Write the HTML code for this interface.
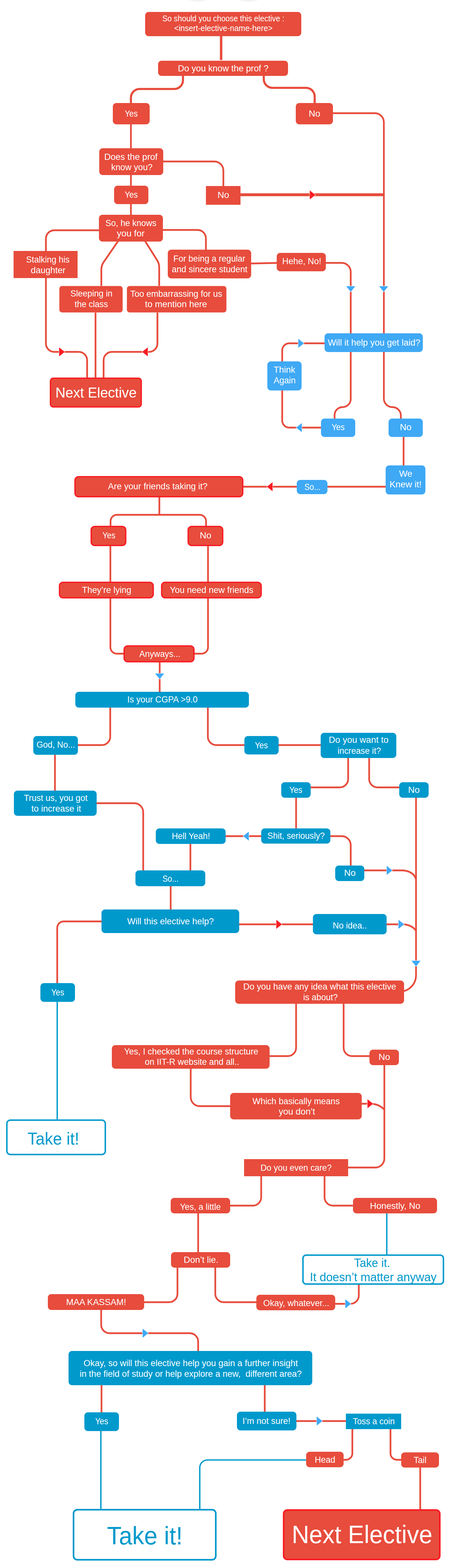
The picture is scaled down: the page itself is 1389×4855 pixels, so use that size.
<!DOCTYPE html>
<html lang="en"><head><meta charset="utf-8"><title>So should you choose this elective</title>
<style>
html,body{margin:0;padding:0;background:#fff}
svg{display:block}
text{font-family:"Liberation Sans",sans-serif;white-space:pre}
</style></head><body>
<svg width="1389" height="4855" viewBox="0 0 1389 4855">
<rect width="1389" height="4855" fill="#fff"/>
<defs><filter id="bl" x="-50%" y="-50%" width="200%" height="200%"><feGaussianBlur stdDeviation="3.5"/></filter></defs>
<ellipse cx="611" cy="-6" rx="28" ry="7" fill="#dcdcdc" filter="url(#bl)"/>
<ellipse cx="768" cy="-6" rx="32" ry="7" fill="#dcdcdc" filter="url(#bl)"/>
<g stroke-linecap="butt" stroke-linejoin="round">
<path d="M684,105 L684,186" stroke="#e74c3c" stroke-width="7.5" fill="none"/>
<path d="M566,230 L566.00,248.50 A27.00,27.00 0 0 1 539.00,275.50 L432.00,275.50 A27.00,27.00 0 0 0 405.00,302.50 L405,325" stroke="#e74c3c" stroke-width="6.5" fill="none"/>
<path d="M816,230 L816.00,245.00 A27.00,27.00 0 0 0 843.00,272.00 L946.50,272.00 A27.00,27.00 0 0 1 973.50,299.00 L973.5,325" stroke="#e74c3c" stroke-width="6.5" fill="none"/>
<path d="M405,380 L405,670" stroke="#e74c3c" stroke-width="5.3" fill="none"/>
<path d="M500,500 L663.00,500.00 A28.00,28.00 0 0 1 691.00,528.00 L691,580" stroke="#e74c3c" stroke-width="5.3" fill="none"/>
<path d="M1025,350.5 L1159.50,350.50 A28.00,28.00 0 0 1 1187.50,378.50 L1187.50,1234.25 A26.25,26.25 0 0 0 1213.75,1260.50 L1213.75,1260.50 A26.25,26.25 0 0 1 1240.00,1286.75 L1240,1300" stroke="#e74c3c" stroke-width="5.3" fill="none"/>
<path d="M740,603 L1187,603" stroke="#e74c3c" stroke-width="9" fill="none"/>
<path d="M310,713 L168.00,713.00 A26.00,26.00 0 0 0 142.00,739.00 L142.00,1063.50 A26.00,26.00 0 0 0 168.00,1089.50 L243.50,1089.50 A26.00,26.00 0 0 1 269.50,1115.50 L269.5,1175" stroke="#e74c3c" stroke-width="5.4" fill="none"/>
<path d="M487,960 L487.00,1063.50 A26.00,26.00 0 0 1 461.00,1089.50 L346.50,1089.50 A26.00,26.00 0 0 0 320.50,1115.50 L320.5,1175" stroke="#e74c3c" stroke-width="5.4" fill="none"/>
<path d="M500,712 L611.00,712.00 A26.00,26.00 0 0 1 637.00,738.00 L637,776" stroke="#e74c3c" stroke-width="5.3" fill="none"/>
<path d="M368.5,742 L320.54,811.76 A40.00,40.00 0 0 0 313.50,834.42 L313.5,890" stroke="#e74c3c" stroke-width="5.4" fill="none"/>
<path d="M446,742 L486.37,806.24 A40.00,40.00 0 0 1 492.50,827.52 L492.5,890" stroke="#e74c3c" stroke-width="5.4" fill="none"/>
<path d="M295.5,960 L295.5,1175" stroke="#e74c3c" stroke-width="5.4" fill="none"/>
<path d="M772,816 L860,814" stroke="#e74c3c" stroke-width="5.3" fill="none"/>
<path d="M1003,814 L1057.00,814.00 A28.00,28.00 0 0 1 1085.00,842.00 L1085.00,1235.50 A25.00,25.00 0 0 1 1060.00,1260.50 L1060.00,1260.50 A25.00,25.00 0 0 0 1035.00,1285.50 L1035,1300" stroke="#e74c3c" stroke-width="5.3" fill="none"/>
<path d="M998,1324 L895.00,1324.00 A22.00,22.00 0 0 1 873.00,1302.00 L873.00,1085.00 A22.00,22.00 0 0 1 895.00,1063.00 L1008,1063" stroke="#e74c3c" stroke-width="5.3" fill="none"/>
<path d="M1248.5,1348 L1248.5,1446" stroke="#e74c3c" stroke-width="5.3" fill="none"/>
<path d="M1198,1507 L748,1507" stroke="#e74c3c" stroke-width="5.3" fill="none"/>
<path d="M493,1535 L493,1594" stroke="#e74c3c" stroke-width="5.3" fill="none"/>
<path d="M342,1632 L342.00,1614.00 A20.00,20.00 0 0 1 362.00,1594.00 L617.50,1594.00 A20.00,20.00 0 0 1 637.50,1614.00 L637.5,1632" stroke="#e74c3c" stroke-width="5.3" fill="none"/>
<path d="M341.5,1686 L341.50,2004.00 A20.00,20.00 0 0 0 361.50,2024.00 L386,2024" stroke="#e74c3c" stroke-width="5.3" fill="none"/>
<path d="M643.5,1686 L643.50,2004.00 A20.00,20.00 0 0 1 623.50,2024.00 L598,2024" stroke="#e74c3c" stroke-width="5.3" fill="none"/>
<path d="M494,2046 L494,2146" stroke="#e74c3c" stroke-width="5.3" fill="none"/>
<path d="M341,2186 L341.00,2281.00 A26.00,26.00 0 0 1 315.00,2307.00 L237,2307" stroke="#e74c3c" stroke-width="5.3" fill="none"/>
<path d="M643,2186 L643.00,2281.00 A26.00,26.00 0 0 0 669.00,2307.00 L760,2307" stroke="#e74c3c" stroke-width="5.3" fill="none"/>
<path d="M170,2332 L170,2452" stroke="#e74c3c" stroke-width="5.3" fill="none"/>
<path d="M858,2307 L996,2307" stroke="#e74c3c" stroke-width="5.3" fill="none"/>
<path d="M1077,2342 L1077.00,2412.00 A26.00,26.00 0 0 1 1051.00,2438.00 L957,2438" stroke="#e74c3c" stroke-width="5.3" fill="none"/>
<path d="M1142,2342 L1142.00,2412.00 A26.00,26.00 0 0 0 1168.00,2438.00 L1239,2438" stroke="#e74c3c" stroke-width="5.3" fill="none"/>
<path d="M916,2465 L916,2569" stroke="#e74c3c" stroke-width="5.3" fill="none"/>
<path d="M1287,2465 L1287.00,3020.00 A50.00,50.00 0 0 1 1237.00,3070.00 L1225,3070" stroke="#e74c3c" stroke-width="5.3" fill="none"/>
<path d="M812,2589 L694,2589" stroke="#e74c3c" stroke-width="5.3" fill="none"/>
<path d="M1018,2589 L1057.00,2589.00 A28.00,28.00 0 0 1 1085.00,2617.00 L1085,2685" stroke="#e74c3c" stroke-width="5.3" fill="none"/>
<path d="M1123,2695 L1245,2695 C1266,2696 1281,2705 1287,2722" stroke="#e74c3c" stroke-width="5.3" fill="none"/>
<path d="M736,2862 L972,2862" stroke="#e74c3c" stroke-width="5.3" fill="none"/>
<path d="M1192,2862 L1250,2862 C1266,2864 1279,2870 1287,2882" stroke="#e74c3c" stroke-width="5.3" fill="none"/>
<path d="M295,2487 L415.00,2487.00 A28.00,28.00 0 0 1 443.00,2515.00 L443,2700" stroke="#e74c3c" stroke-width="5.3" fill="none"/>
<path d="M589,2609 L589,2700" stroke="#e74c3c" stroke-width="5.3" fill="none"/>
<path d="M528,2739 L528,2820" stroke="#e74c3c" stroke-width="5.3" fill="none"/>
<path d="M318,2853 L197.00,2853.00 A20.00,20.00 0 0 0 177.00,2873.00 L177,3048" stroke="#e74c3c" stroke-width="5.3" fill="none"/>
<path d="M177,3098 L177,3470" stroke="#0099cc" stroke-width="4.2" fill="none"/>
<path d="M916,3104 L916.00,3244.00 A26.00,26.00 0 0 1 890.00,3270.00 L830,3270" stroke="#e74c3c" stroke-width="5.3" fill="none"/>
<path d="M1063,3104 L1063.00,3244.00 A26.00,26.00 0 0 0 1089.00,3270.00 L1147,3270" stroke="#e74c3c" stroke-width="5.3" fill="none"/>
<path d="M1189,3294 L1189.00,3587.00 A28.00,28.00 0 0 1 1161.00,3615.00 L1073,3615" stroke="#e74c3c" stroke-width="5.3" fill="none"/>
<path d="M590,3305 L590.00,3397.00 A28.00,28.00 0 0 0 618.00,3425.00 L716,3425" stroke="#e74c3c" stroke-width="5.3" fill="none"/>
<path d="M1115,3417.5 L1150,3417.5 C1166,3419 1180,3426 1189,3436" stroke="#e74c3c" stroke-width="5.3" fill="none"/>
<path d="M808,3638 L808.00,3707.00 A26.00,26.00 0 0 1 782.00,3733.00 L708,3733" stroke="#e74c3c" stroke-width="5.3" fill="none"/>
<path d="M1004,3638 L1004.00,3707.00 A26.00,26.00 0 0 0 1030.00,3733.00 L1096,3733" stroke="#e74c3c" stroke-width="5.3" fill="none"/>
<path d="M1196.5,3753 L1196.5,3889" stroke="#0099cc" stroke-width="4.2" fill="none"/>
<path d="M613,3753 L613,3881" stroke="#e74c3c" stroke-width="5.3" fill="none"/>
<path d="M549,3921 L549.00,4006.00 A26.00,26.00 0 0 1 523.00,4032.00 L442,4032" stroke="#e74c3c" stroke-width="5.3" fill="none"/>
<path d="M666,3921 L666.00,4006.00 A26.00,26.00 0 0 0 692.00,4032.00 L797,4032" stroke="#e74c3c" stroke-width="5.3" fill="none"/>
<path d="M1110,3973 L1110.00,4011.00 A26.00,26.00 0 0 1 1084.00,4037.00 L1033,4037" stroke="#e74c3c" stroke-width="5.3" fill="none"/>
<path d="M313,4052 L313.00,4102.00 A26.00,26.00 0 0 0 339.00,4128.00 L587.00,4128.00 A26.00,26.00 0 0 1 613.00,4154.00 L613,4187" stroke="#e74c3c" stroke-width="5.3" fill="none"/>
<path d="M314,4285 L314,4377" stroke="#e74c3c" stroke-width="5.3" fill="none"/>
<path d="M819,4285 L819,4377" stroke="#e74c3c" stroke-width="5.3" fill="none"/>
<path d="M312,4427 L312,4676" stroke="#0099cc" stroke-width="4.2" fill="none"/>
<path d="M913,4400 L1074,4400" stroke="#e74c3c" stroke-width="5.3" fill="none"/>
<path d="M1090,4421 L1090.00,4500.00 A20.00,20.00 0 0 1 1070.00,4520.00 L1059,4520" stroke="#e74c3c" stroke-width="5.3" fill="none"/>
<path d="M1208,4421 L1208.00,4500.00 A20.00,20.00 0 0 0 1228.00,4520.00 L1245,4520" stroke="#e74c3c" stroke-width="5.3" fill="none"/>
<path d="M1300,4540 L1300,4677" stroke="#e74c3c" stroke-width="5.3" fill="none"/>
<path d="M951,4520.5 L642.00,4520.50 A24.00,24.00 0 0 0 618.00,4544.50 L618,4676" stroke="#0099cc" stroke-width="4.2" fill="none"/>
</g>
<g>
<rect x="449" y="37" width="483" height="75" rx="11" fill="#e74c3c"/>
<text x="502.2" y="66.0" font-size="25.3" fill="#fff" textLength="377.6" lengthAdjust="spacingAndGlyphs">So should you choose this elective :</text>
<text x="538.7" y="96.0" font-size="25.3" fill="#fff" textLength="304.6" lengthAdjust="spacingAndGlyphs">&lt;insert-elective-name-here&gt;</text>
<rect x="489" y="188" width="402" height="47" rx="11" fill="#e74c3c"/>
<text x="550.2" y="221.1" font-size="28.4" fill="#fff" textLength="280.5" lengthAdjust="spacingAndGlyphs">Do you know the prof ?</text>
<rect x="349" y="319" width="114" height="66" rx="11" fill="#e74c3c"/>
<text x="385.9" y="361.1" font-size="28.4" fill="#fff" textLength="40.3" lengthAdjust="spacingAndGlyphs">Yes</text>
<rect x="915" y="319" width="115" height="66" rx="11" fill="#e74c3c"/>
<text x="955.1" y="361.1" font-size="28.4" fill="#fff" textLength="35.9" lengthAdjust="spacingAndGlyphs">No</text>
<rect x="307" y="459" width="198" height="83" rx="11" fill="#e74c3c"/>
<text x="322.4" y="495.1" font-size="28.4" fill="#fff" textLength="165.1" lengthAdjust="spacingAndGlyphs">Does the prof</text>
<text x="344.0" y="527.1" font-size="28.4" fill="#fff" textLength="127.9" lengthAdjust="spacingAndGlyphs">know you?</text>
<rect x="353" y="575" width="106" height="57" rx="11" fill="#e74c3c"/>
<text x="385.9" y="612.1" font-size="28.4" fill="#fff" textLength="40.3" lengthAdjust="spacingAndGlyphs">Yes</text>
<rect x="637" y="576" width="107" height="58" rx="0" fill="#e74c3c"/>
<text x="673.1" y="613.1" font-size="28.4" fill="#fff" textLength="35.9" lengthAdjust="spacingAndGlyphs">No</text>
<rect x="306" y="665" width="198" height="83" rx="11" fill="#e74c3c"/>
<text x="326.2" y="700.1" font-size="28.4" fill="#fff" textLength="157.6" lengthAdjust="spacingAndGlyphs">So, he knows</text>
<text x="361.5" y="732.1" font-size="28.4" fill="#fff" textLength="85.9" lengthAdjust="spacingAndGlyphs">you for</text>
<rect x="42" y="777" width="198" height="84" rx="0" fill="#e74c3c"/>
<text x="80.8" y="813.1" font-size="28.4" fill="#fff" textLength="134.4" lengthAdjust="spacingAndGlyphs">Stalking his</text>
<text x="95.3" y="846.1" font-size="28.4" fill="#fff" textLength="107.4" lengthAdjust="spacingAndGlyphs">daughter</text>
<rect x="519" y="773" width="258" height="89" rx="11" fill="#e74c3c"/>
<text x="536.3" y="810.1" font-size="28.4" fill="#fff" textLength="222.5" lengthAdjust="spacingAndGlyphs">For being a regular</text>
<text x="531.5" y="843.1" font-size="28.4" fill="#fff" textLength="234.0" lengthAdjust="spacingAndGlyphs">and sincere student</text>
<rect x="183.5" y="885.5" width="196" height="82" rx="8.5" fill="#e74c3c" stroke="#f3b0a8" stroke-width="1"/>
<text x="218.0" y="918.1" font-size="28.4" fill="#fff" textLength="129.9" lengthAdjust="spacingAndGlyphs">Sleeping in</text>
<text x="230.9" y="951.1" font-size="28.4" fill="#fff" textLength="103.1" lengthAdjust="spacingAndGlyphs">the class</text>
<rect x="392.5" y="885.5" width="308" height="82" rx="8.5" fill="#e74c3c" stroke="#f3b0a8" stroke-width="1"/>
<text x="402.9" y="919.1" font-size="28.4" fill="#fff" textLength="284.3" lengthAdjust="spacingAndGlyphs">Too embarrassing for us</text>
<text x="448.5" y="951.1" font-size="28.4" fill="#fff" textLength="192.1" lengthAdjust="spacingAndGlyphs">to mention here</text>
<rect x="156" y="1171" width="281" height="89" rx="9" fill="#e74c3c" stroke="#f91c24" stroke-width="4"/>
<text x="171.4" y="1231.2" font-size="44.7" fill="#fff" textLength="251.2" lengthAdjust="spacingAndGlyphs">Next Elective</text>
<rect x="856" y="783" width="152" height="57" rx="11" fill="#e74c3c"/>
<text x="873.0" y="818.1" font-size="28.4" fill="#fff" textLength="120.9" lengthAdjust="spacingAndGlyphs">Hehe, No!</text>
<rect x="1004" y="1032" width="304" height="58" rx="11" fill="#3fa9f5"/>
<text x="1013.9" y="1070.1" font-size="28.4" fill="#fff" textLength="286.1" lengthAdjust="spacingAndGlyphs">Will it help you get laid?</text>
<rect x="827" y="1119" width="106" height="90" rx="11" fill="#3fa9f5"/>
<text x="846.6" y="1154.1" font-size="28.4" fill="#fff" textLength="66.8" lengthAdjust="spacingAndGlyphs">Think</text>
<text x="846.5" y="1187.1" font-size="28.4" fill="#fff" textLength="68.0" lengthAdjust="spacingAndGlyphs">Again</text>
<rect x="993" y="1296" width="106" height="57" rx="11" fill="#3fa9f5"/>
<text x="1025.9" y="1332.1" font-size="28.4" fill="#fff" textLength="40.3" lengthAdjust="spacingAndGlyphs">Yes</text>
<rect x="1202" y="1296" width="106" height="57" rx="11" fill="#3fa9f5"/>
<text x="1237.1" y="1332.1" font-size="28.4" fill="#fff" textLength="35.9" lengthAdjust="spacingAndGlyphs">No</text>
<rect x="1193" y="1441" width="123" height="90" rx="11" fill="#3fa9f5"/>
<text x="1234.4" y="1476.1" font-size="28.4" fill="#fff" textLength="41.1" lengthAdjust="spacingAndGlyphs">We</text>
<text x="1204.9" y="1509.1" font-size="28.4" fill="#fff" textLength="99.2" lengthAdjust="spacingAndGlyphs">Knew it!</text>
<rect x="918" y="1486" width="95" height="44" rx="11" fill="#3fa9f5"/>
<text x="941.7" y="1517.1" font-size="28.4" fill="#fff" textLength="49.5" lengthAdjust="spacingAndGlyphs">So...</text>
<rect x="232" y="1476" width="519" height="62" rx="11" fill="#e74c3c" stroke="#f91c24" stroke-width="4"/>
<text x="334.1" y="1515.1" font-size="28.4" fill="#fff" textLength="307.8" lengthAdjust="spacingAndGlyphs">Are your friends taking it?</text>
<rect x="282" y="1630" width="107" height="59" rx="11" fill="#e74c3c" stroke="#f91c24" stroke-width="4"/>
<text x="316.9" y="1667.1" font-size="28.4" fill="#fff" textLength="40.3" lengthAdjust="spacingAndGlyphs">Yes</text>
<rect x="582" y="1630" width="107" height="59" rx="11" fill="#e74c3c" stroke="#f91c24" stroke-width="4"/>
<text x="618.1" y="1667.1" font-size="28.4" fill="#fff" textLength="35.9" lengthAdjust="spacingAndGlyphs">No</text>
<rect x="184" y="1803" width="290" height="48" rx="11" fill="#e74c3c" stroke="#f91c24" stroke-width="4"/>
<text x="253.8" y="1836.1" font-size="28.4" fill="#fff" textLength="152.4" lengthAdjust="spacingAndGlyphs">They’re lying</text>
<rect x="500" y="1803" width="308" height="48" rx="11" fill="#e74c3c" stroke="#f91c24" stroke-width="4"/>
<text x="525.4" y="1836.1" font-size="28.4" fill="#fff" textLength="258.3" lengthAdjust="spacingAndGlyphs">You need new friends</text>
<rect x="384" y="2000" width="216" height="49" rx="11" fill="#e74c3c" stroke="#f91c24" stroke-width="4"/>
<text x="431.1" y="2034.1" font-size="28.4" fill="#fff" textLength="126.9" lengthAdjust="spacingAndGlyphs">Anyways...</text>
<rect x="233" y="2142" width="537" height="49" rx="11" fill="#0099cc"/>
<text x="393.8" y="2175.1" font-size="28.4" fill="#fff" textLength="217.4" lengthAdjust="spacingAndGlyphs">Is your CGPA &gt;9.0</text>
<rect x="103" y="2279" width="138" height="58" rx="11" fill="#0099cc"/>
<text x="113.0" y="2315.1" font-size="28.4" fill="#fff" textLength="119.0" lengthAdjust="spacingAndGlyphs">God, No...</text>
<rect x="43" y="2448" width="256" height="78" rx="11" fill="#0099cc"/>
<text x="74.1" y="2480.1" font-size="28.4" fill="#fff" textLength="196.8" lengthAdjust="spacingAndGlyphs">Trust us, you got</text>
<text x="97.0" y="2513.1" font-size="28.4" fill="#fff" textLength="153.9" lengthAdjust="spacingAndGlyphs">to increase it</text>
<rect x="756" y="2279" width="106" height="57" rx="11" fill="#0099cc"/>
<text x="788.4" y="2317.1" font-size="28.4" fill="#fff" textLength="40.3" lengthAdjust="spacingAndGlyphs">Yes</text>
<rect x="992" y="2269" width="234" height="78" rx="11" fill="#0099cc"/>
<text x="1017.0" y="2300.1" font-size="28.4" fill="#fff" textLength="185.0" lengthAdjust="spacingAndGlyphs">Do you want to</text>
<text x="1044.5" y="2334.1" font-size="28.4" fill="#fff" textLength="134.0" lengthAdjust="spacingAndGlyphs">increase it?</text>
<rect x="870" y="2422" width="91" height="48" rx="11" fill="#0099cc"/>
<text x="894.9" y="2454.6" font-size="28.4" fill="#fff" textLength="40.3" lengthAdjust="spacingAndGlyphs">Yes</text>
<rect x="1235" y="2422" width="91" height="48" rx="11" fill="#0099cc"/>
<text x="1262.6" y="2455.1" font-size="28.4" fill="#fff" textLength="35.9" lengthAdjust="spacingAndGlyphs">No</text>
<rect x="808" y="2565" width="214" height="47" rx="11" fill="#0099cc"/>
<text x="827.3" y="2597.1" font-size="28.4" fill="#fff" textLength="177.3" lengthAdjust="spacingAndGlyphs">Shit, seriously?</text>
<rect x="482" y="2565" width="216" height="48" rx="11" fill="#0099cc"/>
<text x="531.4" y="2598.1" font-size="28.4" fill="#fff" textLength="118.3" lengthAdjust="spacingAndGlyphs">Hell Yeah!</text>
<rect x="419" y="2695" width="216" height="49" rx="11" fill="#0099cc"/>
<text x="502.7" y="2730.1" font-size="28.4" fill="#fff" textLength="49.5" lengthAdjust="spacingAndGlyphs">So...</text>
<rect x="314" y="2816" width="426" height="73" rx="11" fill="#0099cc"/>
<text x="393.5" y="2862.1" font-size="28.4" fill="#fff" textLength="268.0" lengthAdjust="spacingAndGlyphs">Will this elective help?</text>
<rect x="1037" y="2680" width="90" height="48" rx="11" fill="#0099cc"/>
<text x="1064.6" y="2712.1" font-size="28.4" fill="#fff" textLength="35.9" lengthAdjust="spacingAndGlyphs">No</text>
<rect x="968" y="2830" width="228" height="63" rx="11" fill="#0099cc"/>
<text x="1029.2" y="2875.1" font-size="28.4" fill="#fff" textLength="105.6" lengthAdjust="spacingAndGlyphs">No idea..</text>
<rect x="727.5" y="3036" width="522.5" height="72" rx="11" fill="#e74c3c"/>
<text x="752.5" y="3064.1" font-size="28.4" fill="#fff" textLength="472.9" lengthAdjust="spacingAndGlyphs">Do you have any idea what this elective</text>
<text x="938.0" y="3097.1" font-size="28.4" fill="#fff" textLength="106.9" lengthAdjust="spacingAndGlyphs">is about?</text>
<rect x="346" y="3236" width="488" height="73" rx="11" fill="#e74c3c"/>
<text x="383.9" y="3265.1" font-size="28.4" fill="#fff" textLength="415.2" lengthAdjust="spacingAndGlyphs">Yes, I checked the course structure</text>
<text x="448.0" y="3297.1" font-size="28.4" fill="#fff" textLength="292.0" lengthAdjust="spacingAndGlyphs">on IIT-R website and all..</text>
<rect x="1143" y="3250" width="91" height="48" rx="11" fill="#e74c3c"/>
<text x="1171.1" y="3282.1" font-size="28.4" fill="#fff" textLength="35.9" lengthAdjust="spacingAndGlyphs">No</text>
<rect x="712" y="3384" width="407" height="82" rx="11" fill="#e74c3c"/>
<text x="781.1" y="3419.1" font-size="28.4" fill="#fff" textLength="269.8" lengthAdjust="spacingAndGlyphs">Which basically means</text>
<text x="862.2" y="3451.1" font-size="28.4" fill="#fff" textLength="112.6" lengthAdjust="spacingAndGlyphs">you don’t</text>
<rect x="755" y="3589" width="322" height="53" rx="0" fill="#e74c3c"/>
<text x="805.9" y="3625.1" font-size="28.4" fill="#fff" textLength="220.1" lengthAdjust="spacingAndGlyphs">Do you even care?</text>
<rect x="125" y="3044" width="107" height="58" rx="11" fill="#0099cc"/>
<text x="158.4" y="3082.1" font-size="28.4" fill="#fff" textLength="40.3" lengthAdjust="spacingAndGlyphs">Yes</text>
<rect x="21.25" y="3468.25" width="304.5" height="106.5" rx="10.75" fill="#fff" stroke="#0099cc" stroke-width="4.5"/>
<text x="85.1" y="3543.7" font-size="53.6" fill="#0099cc" textLength="159.9" lengthAdjust="spacingAndGlyphs">Take it!</text>
<rect x="1092" y="3709" width="260" height="48" rx="11" fill="#e74c3c"/>
<text x="1144.6" y="3743.1" font-size="28.4" fill="#fff" textLength="155.7" lengthAdjust="spacingAndGlyphs">Honestly, No</text>
<rect x="937.25" y="3886.25" width="434.5" height="89.5" rx="9.75" fill="#fff" stroke="#0099cc" stroke-width="4.5"/>
<text x="1095.3" y="3923.3" font-size="37.8" fill="#0099cc" textLength="111.5" lengthAdjust="spacingAndGlyphs">Take it.</text>
<text x="958.5" y="3966.8" font-size="37.8" fill="#0099cc" textLength="391.9" lengthAdjust="spacingAndGlyphs">It doesn’t matter anyway</text>
<rect x="793" y="4009" width="244" height="48" rx="11" fill="#e74c3c"/>
<text x="814.2" y="4044.1" font-size="28.4" fill="#fff" textLength="204.6" lengthAdjust="spacingAndGlyphs">Okay, whatever...</text>
<rect x="528" y="3709" width="184" height="48" rx="11" fill="#e74c3c"/>
<text x="556.7" y="3746.1" font-size="28.4" fill="#fff" textLength="126.5" lengthAdjust="spacingAndGlyphs">Yes, a little</text>
<rect x="529" y="3877" width="183" height="48" rx="11" fill="#e74c3c"/>
<text x="568.3" y="3910.1" font-size="28.4" fill="#fff" textLength="107.3" lengthAdjust="spacingAndGlyphs">Don’t lie.</text>
<rect x="148" y="4007" width="298" height="49" rx="11" fill="#e74c3c"/>
<text x="204.8" y="4041.1" font-size="28.4" fill="#fff" textLength="185.4" lengthAdjust="spacingAndGlyphs">MAA KASSAM!</text>
<rect x="212" y="4183" width="754" height="106" rx="11" fill="#0099cc"/>
<text x="258.5" y="4230.1" font-size="28.4" fill="#fff" textLength="663.0" lengthAdjust="spacingAndGlyphs">Okay, so will this elective help you gain a further insight</text>
<text x="246.5" y="4263.1" font-size="28.4" fill="#fff" textLength="686.9" lengthAdjust="spacingAndGlyphs">in the field of study or help explore a new,  different area?</text>
<rect x="261" y="4373" width="107" height="58" rx="11" fill="#0099cc"/>
<text x="294.4" y="4410.1" font-size="28.4" fill="#fff" textLength="40.3" lengthAdjust="spacingAndGlyphs">Yes</text>
<rect x="733" y="4371" width="184" height="58" rx="11" fill="#0099cc"/>
<text x="750.3" y="4409.1" font-size="28.4" fill="#fff" textLength="148.3" lengthAdjust="spacingAndGlyphs">I’m not sure!</text>
<rect x="227.5" y="4674.5" width="440" height="155" rx="11.5" fill="#fff" stroke="#0099cc" stroke-width="5"/>
<text x="331.0" y="4782.3" font-size="78.4" fill="#0099cc" textLength="234.1" lengthAdjust="spacingAndGlyphs">Take it!</text>
<rect x="1070" y="4377" width="171" height="48" rx="0" fill="#0099cc"/>
<text x="1091.7" y="4410.1" font-size="28.4" fill="#fff" textLength="129.5" lengthAdjust="spacingAndGlyphs">Toss a coin</text>
<rect x="947" y="4495" width="116" height="48" rx="11" fill="#e74c3c"/>
<text x="973.7" y="4529.1" font-size="28.4" fill="#fff" textLength="63.7" lengthAdjust="spacingAndGlyphs">Head</text>
<rect x="1241" y="4497" width="117" height="47" rx="11" fill="#e74c3c"/>
<text x="1279.7" y="4530.1" font-size="28.4" fill="#fff" textLength="39.6" lengthAdjust="spacingAndGlyphs">Tail</text>
<rect x="877.5" y="4675.5" width="483" height="153" rx="11.5" fill="#e74c3c" stroke="#f91c24" stroke-width="5"/>
<text x="902.4" y="4778.0" font-size="77.5" fill="#fff" textLength="435.3" lengthAdjust="spacingAndGlyphs">Next Elective</text>
</g>
<g>
<polygon points="958.25,589.5 975.75,603.5 958.25,617.5" fill="#f91c24" stroke="#fff" stroke-width="2" paint-order="stroke"/>
<polygon points="182.75,1075.5 200.25,1089.5 182.75,1103.5" fill="#f91c24" stroke="#fff" stroke-width="2" paint-order="stroke"/>
<polygon points="457.25,1075.5 439.75,1089.5 457.25,1103.5" fill="#f91c24" stroke="#fff" stroke-width="2" paint-order="stroke"/>
<polygon points="1071,886.25 1085,903.75 1099,886.25" fill="#3fa9f5" stroke="#fff" stroke-width="2" paint-order="stroke"/>
<polygon points="1173,886.25 1187,903.75 1201,886.25" fill="#3fa9f5" stroke="#fff" stroke-width="2" paint-order="stroke"/>
<polygon points="922.75,1049 940.25,1063 922.75,1077" fill="#3fa9f5" stroke="#fff" stroke-width="2" paint-order="stroke"/>
<polygon points="933.75,1310 916.25,1324 933.75,1338" fill="#3fa9f5" stroke="#fff" stroke-width="2" paint-order="stroke"/>
<polygon points="843.25,1493 825.75,1507 843.25,1521" fill="#f91c24" stroke="#fff" stroke-width="2" paint-order="stroke"/>
<polygon points="480,2085.25 494,2102.75 508,2085.25" fill="#3fa9f5" stroke="#fff" stroke-width="2" paint-order="stroke"/>
<polygon points="769.75,2575 752.25,2589 769.75,2603" fill="#3fa9f5" stroke="#fff" stroke-width="2" paint-order="stroke"/>
<polygon points="1196.25,2681 1213.75,2695 1196.25,2709" fill="#3fa9f5" stroke="#fff" stroke-width="2" paint-order="stroke"/>
<polygon points="1232.75,2848 1250.25,2862 1232.75,2876" fill="#3fa9f5" stroke="#fff" stroke-width="2" paint-order="stroke"/>
<polygon points="854.75,2848 872.25,2862 854.75,2876" fill="#f91c24" stroke="#fff" stroke-width="2" paint-order="stroke"/>
<polygon points="1273,2974.75 1287,2992.25 1301,2974.75" fill="#3fa9f5" stroke="#fff" stroke-width="2" paint-order="stroke"/>
<polygon points="1136.75,3403.5 1154.25,3417.5 1136.75,3431.5" fill="#f91c24" stroke="#fff" stroke-width="2" paint-order="stroke"/>
<polygon points="1068.25,4023 1085.75,4037 1068.25,4051" fill="#3fa9f5" stroke="#fff" stroke-width="2" paint-order="stroke"/>
<polygon points="441.25,4114 458.75,4128 441.25,4142" fill="#3fa9f5" stroke="#fff" stroke-width="2" paint-order="stroke"/>
<polygon points="979.75,4386 997.25,4400 979.75,4414" fill="#3fa9f5" stroke="#fff" stroke-width="2" paint-order="stroke"/>
</g>
</svg>
</body></html>
